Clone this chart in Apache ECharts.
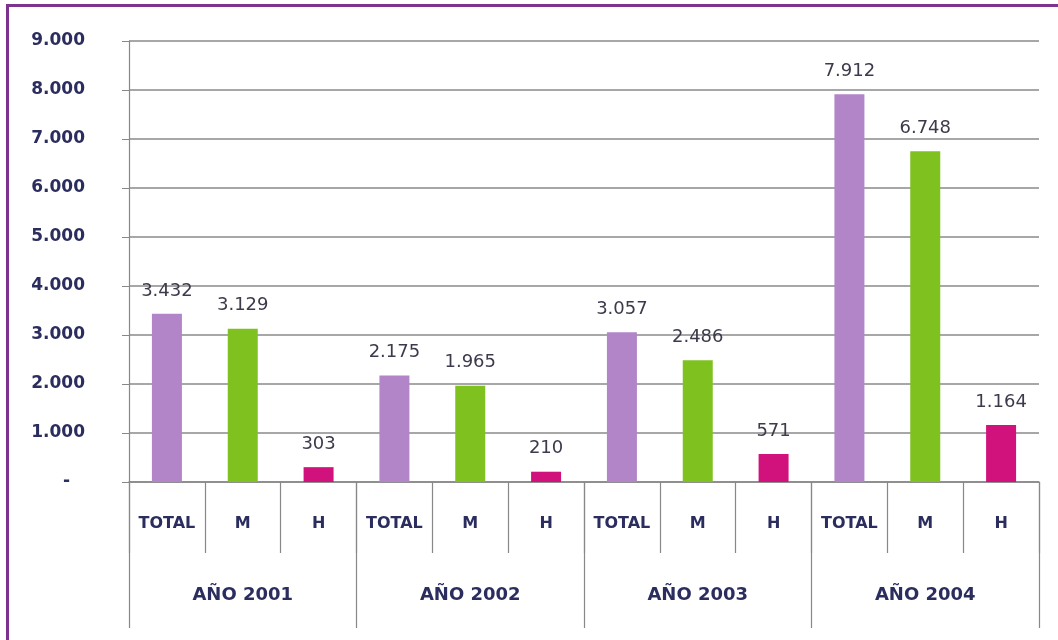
<!DOCTYPE html>
<html>
<head>
<meta charset="utf-8">
<script src="https://cdn.jsdelivr.net/npm/echarts@6/dist/echarts.min.js"></script>
<style>
    html, body { margin: 0; padding: 0; background: #fff; }
    #frame {
        position: absolute; left: 6px; top: 4px; width: 1052px; height: 636px;
        border-left: 3px solid #7d3290; border-top: 3px solid #7d3290;
        box-sizing: border-box;
    }
    #chart { position: absolute; left: 0; top: 0; width: 1058px; height: 640px; }
</style>
</head>
<body>
<div id="frame"></div>
<div id="chart"></div>
<script>
const years = ['AÑO 2001', 'AÑO 2002', 'AÑO 2003', 'AÑO 2004'];
const kinds = ['TOTAL', 'M', 'H'];
const total = [3432, 2175, 3057, 7912];
const mujeres = [3129, 1965, 2486, 6748];
const hombres = [303, 210, 571, 1164];
const kindColors = ['#b285c9', '#7fc11f', '#d2127c'];

// 12 categorias: TOTAL / M / H por cada año
let cats = [];
let values = [];
years.forEach((y, i) => {
    [total, mujeres, hombres].forEach((arr, k) => {
        cats.push(kinds[k]);
        values.push({value: arr[i], itemStyle: {color: kindColors[k]}});
    });
});

const fmt = (v) => String(v).replace(/\B(?=(\d{3})+(?!\d))/g, '.');
const navy = '#2b2d5e';

const myChart = echarts.init(document.getElementById('chart'));
myChart.setOption({
    animation: false,
    grid: {left: 129, right: 19, top: 41, bottom: 158},
    xAxis: [
        {
            type: 'category',
            data: cats,
            position: 'bottom',
            boundaryGap: true,
            axisLine: {show: true, lineStyle: {color: '#888', width: 1.5}},
            axisTick: {show: true, interval: 0, length: 71, lineStyle: {color: '#888', width: 1.2}},
            axisLabel: {
                margin: 34, color: navy, fontWeight: 'bold',
                fontFamily: 'DejaVu Sans', fontSize: 16, interval: 0
            }
        },
        {
            type: 'category',
            data: years,
            position: 'bottom',
            boundaryGap: true,
            axisLine: {show: false},
            axisTick: {show: true, interval: 0, length: 146, lineStyle: {color: '#888', width: 1.2}},
            axisLabel: {
                margin: 104, color: navy, fontWeight: 'bold',
                fontFamily: 'DejaVu Sans', fontSize: 18, interval: 0
            }
        }
    ],
    yAxis: {
        type: 'value',
        min: 0,
        max: 9000,
        interval: 1000,
        axisLine: {show: true, lineStyle: {color: '#888', width: 1.2}},
        axisTick: {show: true, length: 7, lineStyle: {color: '#888'}},
        splitLine: {lineStyle: {color: '#8a8a8a', width: 1.5}},
        axisLabel: {
            margin: 44, color: navy, fontWeight: 'bold',
            fontFamily: 'DejaVu Sans', fontSize: 17,
            formatter: (v) => v === 0 ? '{d|-}' : fmt(v),
            rich: {d: {padding: [0, 15, 0, 0], color: navy, fontWeight: 'bold', fontSize: 17}}
        }
    },
    series: [{
        type: 'bar',
        xAxisIndex: 0,
        data: values,
        barWidth: 30,
        label: {
            show: true,
            position: 'top',
            distance: 14,
            color: '#3b3b4b',
            fontFamily: 'DejaVu Sans',
            fontSize: 18,
            formatter: (p) => fmt(p.value)
        }
    }]
});
</script>
</body>
</html>
